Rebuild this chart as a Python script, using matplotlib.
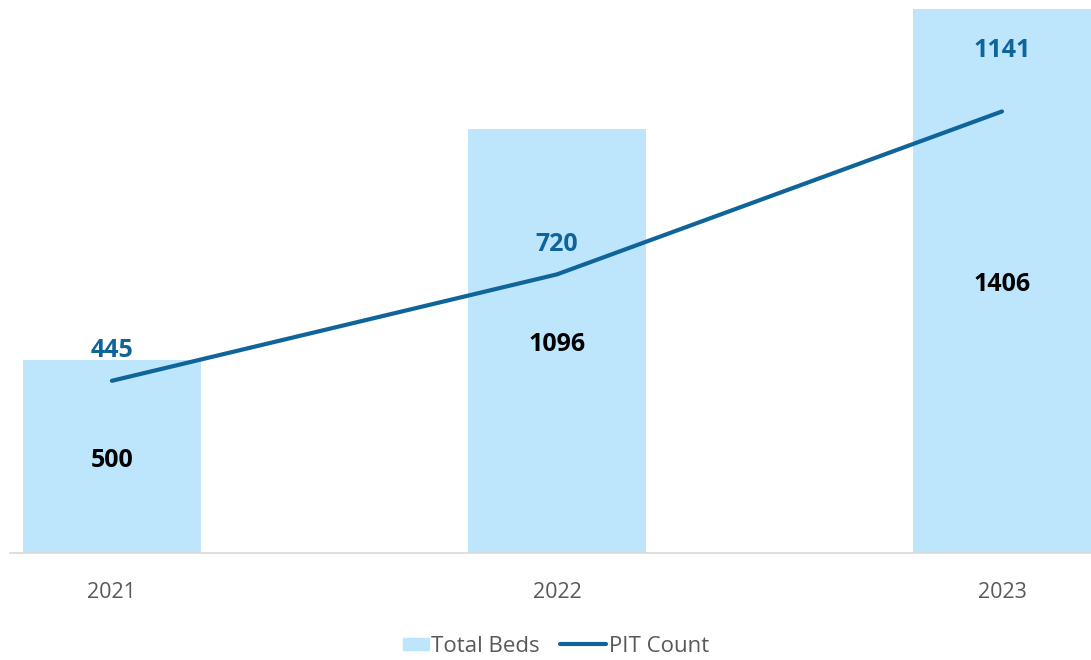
import matplotlib.pyplot as plt
import matplotlib.patches as mpatches
from matplotlib.legend_handler import HandlerPatch
import numpy as np

years = ['2021', '2022', '2023']
total_beds = [500, 1096, 1406]
pit_count = [445, 720, 1141]

bar_color = '#BDE5FB'
line_color = '#0F6499'

plt.rcParams['font.family'] = ['Open Sans', 'DejaVu Sans']


def short_patch(legend, orig_handle, xdescent, ydescent, width, height, fontsize):
    # narrower swatch, right aligned in the handle box
    w = height * 1.65
    return mpatches.Rectangle((width - w - xdescent, -ydescent + height * 0.1), w, height * 0.8)


fig = plt.figure(figsize=(10.91, 6.6), dpi=100)
ax = fig.add_axes([10 / 1091, 107 / 660, 1081 / 1091, 553 / 660])

x = np.arange(len(years))
ax.bar(x, total_beds, width=0.4, color=bar_color, zorder=1)
line, = ax.plot(x, pit_count, color=line_color, linewidth=3, label='PIT Count',
                solid_capstyle='round', zorder=2)
bar_handle = mpatches.Patch(color=bar_color, label='Total Beds')

for xi, v in zip(x, total_beds):
    ax.annotate(str(v), (xi, v / 2), xytext=(0, -4), textcoords='offset pixels',
                ha='center', va='center', fontsize=18,
                fontweight='bold', color='black', zorder=3)

# PIT labels sit above the line points
offsets = [30, 30, 61]
for xi, v, off in zip(x, pit_count, offsets):
    ax.annotate(str(v), (xi, v), xytext=(0, off), textcoords='offset pixels',
                ha='center', va='center', fontsize=18, fontweight='bold',
                color=line_color, zorder=3)

ax.set_xlim(-0.229, 2.2)
ax.set_ylim(0, 1429)
ax.set_xticks(x)
ax.set_xticklabels(years, fontsize=15.5, color='#595959')
ax.tick_params(axis='x', length=0, pad=21)
ax.set_yticks([])
for s in ['top', 'right', 'left']:
    ax.spines[s].set_visible(False)
ax.spines['bottom'].set_color('#D9D9D9')
ax.spines['bottom'].set_linewidth(1.2)

fig.legend(handles=[bar_handle, line], loc='center', bbox_to_anchor=(0.5, 1 - 646 / 660),
           ncol=2, frameon=False, fontsize=16, labelcolor='#595959',
           handlelength=2.1, handletextpad=0.1, columnspacing=0.9,
           handler_map={bar_handle: HandlerPatch(patch_func=short_patch)})

fig.savefig('out.png', dpi=100)
